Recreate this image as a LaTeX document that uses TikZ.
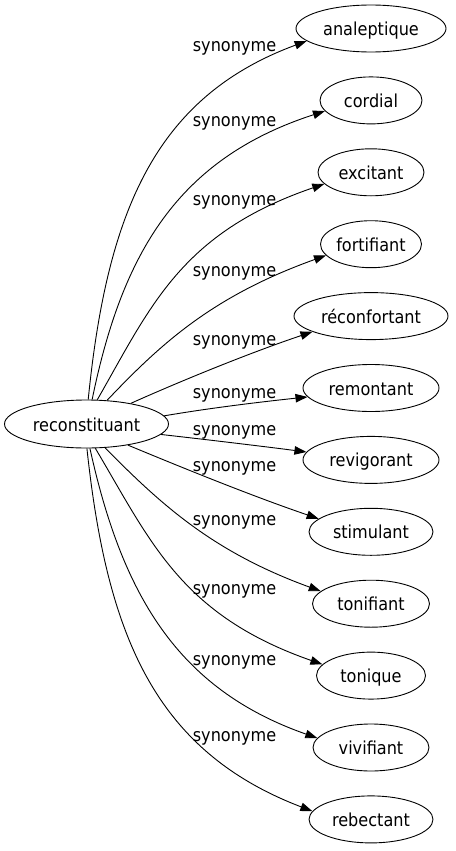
\documentclass[tikz,border=0pt]{standalone}
\usepackage{fontspec}
\setmainfont{DejaVu Sans}[FakeStretch=0.9]
\usetikzlibrary{shapes.geometric,arrows.meta}
\begin{document}
\begin{tikzpicture}[x=1pt,y=-1pt,
  nd/.style={ellipse,draw,line width=0.9pt,inner sep=0pt,minimum height=47pt,
    font=\fontsize{17.9}{20}\selectfont,text height=14pt,text depth=0pt},
  lab/.style={inner sep=0pt,anchor=base,font=\fontsize{17.9}{20}\selectfont},
  edge/.style={draw,line width=0.9pt,-{Triangle[length=12pt,width=8.5pt]}}]
\useasboundingbox (0,0) rectangle (455,851);
\node[nd,minimum width=164pt,minimum height=48pt] (c) at (86.5,424) {reconstituant};
\node[nd,minimum width=150pt] (t1) at (371,28.5) {analeptique};
\node[nd,minimum width=102pt] (t2) at (371,100.4) {cordial};
\node[nd,minimum width=106pt] (t3) at (371,172.3) {excitant};
\node[nd,minimum width=101pt] (t4) at (371,244.2) {fortifiant};
\node[nd,minimum width=154pt] (t5) at (371,316.1) {réconfortant};
\node[nd,minimum width=136pt] (t6) at (371,388) {remontant};
\node[nd,minimum width=136pt] (t7) at (371,459.9) {revigorant};
\node[nd,minimum width=124pt] (t8) at (371,531.8) {stimulant};
\node[nd,minimum width=117pt] (t9) at (371,603.7) {tonifiant};
\node[nd,minimum width=109pt] (t10) at (371,675.6) {tonique};
\node[nd,minimum width=116pt] (t11) at (371,747.5) {vivifiant};
\node[nd,minimum width=124pt] (t12) at (371,819.4) {rebectant};
\draw[edge] (c.86) .. controls (107,212) and (155,97) .. (t1.191);
\draw[edge] (c.77) .. controls (122,254) and (177,159) .. (t2.193);
\draw[edge] (c.66) .. controls (151,306) and (181,233) .. (t3.194);
\draw[edge] (c.49) .. controls (161.5,343) and (213,296) .. (t4.194);
\draw[edge] (c.25) .. controls (183,380) and (252,352) .. (t5.195);
\draw[edge] (c.6) .. controls (210,408) and (260,402) .. (t6.188);
\draw[edge] (c.-8) .. controls (210,440) and (260,446) .. (t7.173);
\draw[edge] (c.-27) .. controls (183,468) and (252,496) .. (t8.166);
\draw[edge] (c.-52) .. controls (161.5,505) and (213,552) .. (t9.166);
\draw[edge] (c.-70) .. controls (151,542) and (181,615) .. (t10.167);
\draw[edge] (c.-82) .. controls (122,594) and (177,689) .. (t11.170);
\draw[edge] (c.-89) .. controls (107,636) and (155,751) .. (t12.172);
\node[lab] (l1) at (234.5,51.7) {synonyme};
\node[lab] (l2) at (234.5,126.7) {synonyme};
\node[lab] (l3) at (234.5,205) {synonyme};
\node[lab] (l4) at (234.5,276.7) {synonyme};
\node[lab] (l5) at (234.5,345) {synonyme};
\node[lab] (l6) at (234.5,398.3) {synonyme};
\node[lab] (l7) at (234.5,435) {synonyme};
\node[lab] (l8) at (234.5,471.7) {synonyme};
\node[lab] (l9) at (234.5,525.7) {synonyme};
\node[lab] (l10) at (234.5,594.3) {synonyme};
\node[lab] (l11) at (234.5,665.7) {synonyme};
\node[lab] (l12) at (234.5,741.7) {synonyme};
\end{tikzpicture}
\end{document}
